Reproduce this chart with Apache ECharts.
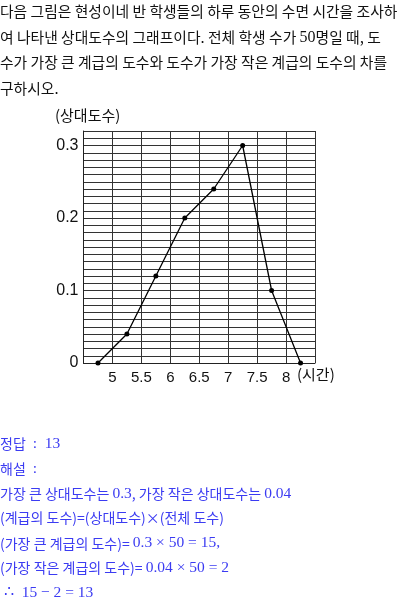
<!DOCTYPE html>
<html>
<head>
<meta charset="utf-8">
<script src="https://cdn.jsdelivr.net/npm/echarts@6/dist/echarts.min.js"></script>
<style>
html,body{margin:0;padding:0;background:#fff;}
#c{width:400px;height:598px;}
</style>
</head>
<body>
<div id="c"></div>
<script>
// Data
const hours = [4.75, 5.25, 5.75, 6.25, 6.75, 7.25, 7.75, 8.25];
const relFreq = [0, 0.04, 0.12, 0.2, 0.24, 0.3, 0.1, 0];
const xTickLabels = [5, 5.5, 6, 6.5, 7, 7.5, 8];
const yTickLabels = [0, 0.1, 0.2, 0.3];
const xAxisName = '(시간)';
const yAxisName = '(상대도수)';
const questionLines = [
  '다음 그림은 현성이네 반 학생들의 하루 동안의 수면 시간을 조사하',
  '여 나타낸 상대도수의 그래프이다. 전체 학생 수가 {n|50}명일 때, 도',
  '수가 가장 큰 계급의 도수와 도수가 가장 작은 계급의 도수의 차를',
  '구하시오.'
];
const answerLines = [
  '정답 {n| :  13}',
  '해설 {n| :}',
  '가장 큰 상대도수는 {n|0.3}, 가장 작은 상대도수는 {n|0.04}',
  '(계급의 도수)=(상대도수)×(전체 도수)',
  '(가장 큰 계급의 도수)= {n|0.3 × 50 = 15,}',
  '(가장 작은 계급의 도수)= {n|0.04 × 50 = 2}',
  '{n| ∴  15 − 2 = 13}'
];

const KR = '"Noto Sans CJK KR", "Noto Sans", sans-serif';
const SERIF = '"Liberation Serif", "DejaVu Serif", serif';
const SANS = '"Liberation Sans", Arial, sans-serif';

const chart = echarts.init(document.getElementById('c'), null, {renderer: 'canvas'});

const graphics = [];
questionLines.forEach((t, i) => {
  graphics.push({
    type: 'text', left: 0, top: 4 + i * 25.5,
    style: {
      text: t, font: '14.8px ' + KR, fill: '#111',
      rich: { n: { fontFamily: SERIF, fontSize: 16, fill: '#111' } }
    }
  });
});
answerLines.forEach((t, i) => {
  graphics.push({
    type: 'text', left: 0, top: 436 + i * 24.8,
    style: {
      text: t, font: '14px ' + KR, fill: '#3b3bf2',
      rich: { n: { fontFamily: SERIF, fontSize: 15.5, fill: '#3b3bf2' } }
    }
  });
});
graphics.push({
  type: 'text', left: 55, top: 108,
  style: { text: yAxisName, font: '15px ' + KR, fill: '#111' }
});
graphics.push({
  type: 'text', left: 297, top: 367,
  style: { text: xAxisName, font: '15px ' + KR, fill: '#111' }
});

function isShown(v, list) {
  return list.some(t => Math.abs(t - v) < 1e-6);
}

chart.setOption({
  animation: false,
  backgroundColor: '#fff',
  grid: { left: 83.5, right: 85, top: 131, bottom: 235, containLabel: false },
  xAxis: {
    type: 'value', min: 4.5, max: 8.5, interval: 0.5,
    axisLine: { show: true, onZero: false, lineStyle: { color: '#222', width: 1 } },
    axisTick: { show: false },
    splitLine: { show: true, lineStyle: { color: '#333', width: 1 } },
    axisLabel: {
      margin: 7, color: '#111', fontSize: 15, fontFamily: SANS,
      showMinLabel: true, showMaxLabel: true,
      formatter: v => isShown(v, xTickLabels) ? String(+v.toFixed(2)) : ''
    }
  },
  yAxis: {
    type: 'value', min: 0, max: 0.32, interval: 0.01,
    axisLine: { show: true, lineStyle: { color: '#222', width: 1 } },
    axisTick: { show: false },
    splitLine: { show: true, lineStyle: { color: '#333', width: 1 } },
    axisLabel: {
      margin: 5, color: '#111', fontSize: 16, fontFamily: SANS,
      formatter: v => isShown(v, yTickLabels) ? String(+v.toFixed(2)) : ''
    }
  },
  series: [{
    type: 'line',
    data: hours.map((h, i) => [h, relFreq[i]]),
    symbol: 'circle', symbolSize: 5,
    itemStyle: { color: '#000' },
    lineStyle: { color: '#000', width: 1.3 },
    z: 5
  }],
  graphic: graphics
});
</script>
</body>
</html>
